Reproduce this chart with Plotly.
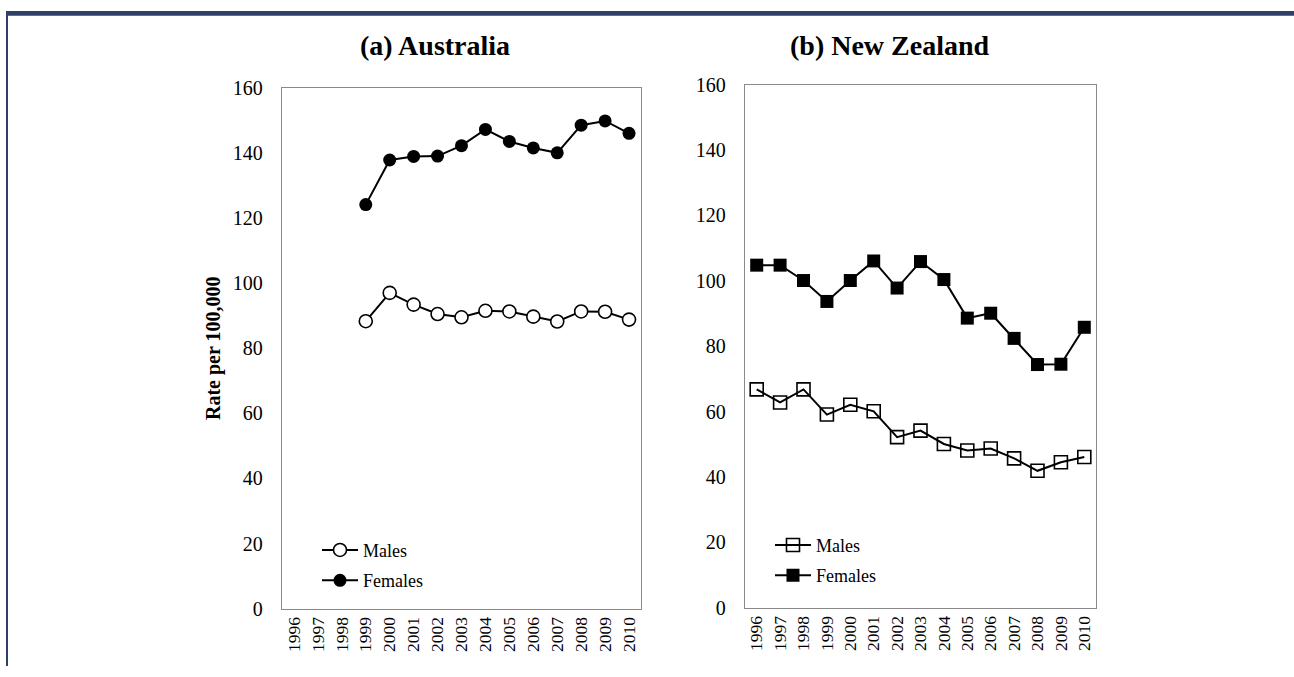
import plotly.graph_objects as go

years = [str(y) for y in range(1996, 2011)]

# (a) Australia (data from 1999)
au_years = [str(y) for y in range(1999, 2011)]
au_males = [88.3, 97.0, 93.4, 90.5, 89.5, 91.5, 91.3, 89.7, 88.2, 91.3, 91.2, 88.8]
au_females = [124.1, 137.8, 138.9, 139.0, 142.2, 147.2, 143.5, 141.5, 140.0, 148.5, 149.8, 146.0]

# (b) New Zealand
nz_years = years
nz_males = [66.8, 62.8, 66.8, 59.1, 62.1, 60.1, 52.2, 54.2, 50.1, 48.1, 48.7, 45.7, 41.9, 44.5, 46.1]
nz_females = [104.8, 104.8, 100.1, 93.7, 100.1, 106.1, 97.8, 105.9, 100.4, 88.6, 90.1, 82.4, 74.4, 74.5, 85.8]

y_ticks = [0, 20, 40, 60, 80, 100, 120, 140, 160]
titles = ["(a) Australia", "(b) New Zealand"]
y_title = "Rate per 100,000"

W, H = 1294, 677
FONT = "Liberation Serif, Times New Roman, serif"
AXC = "#8a8a8a"

def px_x(p):
    return p / W

def px_y(p):
    L = (p - 10.3) / 0.9674
    return (H - L) / H

fig = go.Figure()
line = dict(color="black", width=2)

fig.add_trace(go.Scatter(x=au_years, y=au_males, name="Males", mode="lines+markers",
                         line=line, legend="legend", legendgroup="am",
                         marker=dict(symbol="circle", size=13, color="white",
                                     line=dict(color="black", width=1.6)),
                         xaxis="x", yaxis="y"))
fig.add_trace(go.Scatter(x=au_years, y=au_females, name="Females", mode="lines+markers",
                         line=line, legend="legend", legendgroup="af",
                         marker=dict(symbol="circle", size=13, color="black"),
                         xaxis="x", yaxis="y"))
fig.add_trace(go.Scatter(x=nz_years, y=nz_males, name="Males", mode="lines+markers",
                         line=line, legend="legend2", legendgroup="nm",
                         marker=dict(symbol="square-open", size=13, color="black",
                                     line=dict(color="black", width=1.6)),
                         xaxis="x2", yaxis="y2"))
fig.add_trace(go.Scatter(x=nz_years, y=nz_females, name="Females", mode="lines+markers",
                         line=line, legend="legend2", legendgroup="nf",
                         marker=dict(symbol="square", size=13, color="black"),
                         xaxis="x2", yaxis="y2"))

xcommon = dict(type="category", categoryorder="array", categoryarray=years,
               range=[-0.5, 14.5], showline=True, mirror=True, linecolor=AXC,
               linewidth=1.3, showgrid=False, zeroline=False, ticks="",
               tickangle=-90, tickfont=dict(family=FONT, size=17.5, color="black"),
               fixedrange=True)
ycommon = dict(range=[0, 160], tickvals=y_ticks, showline=True, mirror=True,
               linecolor=AXC, linewidth=1.3, showgrid=False, zeroline=False,
               ticks="", ticklabelstandoff=14,
               tickfont=dict(family=FONT, size=20, color="black"), fixedrange=True)

fig.update_layout(
    width=W, height=H, margin=dict(l=0, r=0, t=0, b=0),
    paper_bgcolor="white", plot_bgcolor="white",
    xaxis=dict(xcommon, domain=[px_x(282), px_x(641)], anchor="y"),
    yaxis=dict(ycommon, domain=[px_y(608), px_y(87)], anchor="x",
               title=dict(text="<b>" + y_title + "</b>", standoff=6,
                          font=dict(family=FONT, size=20, color="black"))),
    xaxis2=dict(xcommon, domain=[px_x(745), px_x(1096)], anchor="y2"),
    yaxis2=dict(ycommon, domain=[px_y(607), px_y(84)], anchor="x2"),
    legend=dict(x=px_x(317), y=px_y(531), xanchor="left", yanchor="top",
                bgcolor="rgba(0,0,0,0)", itemwidth=36, tracegroupgap=4,
                font=dict(family=FONT, size=18, color="black")),
    legend2=dict(x=px_x(770), y=px_y(526), xanchor="left", yanchor="top",
                 bgcolor="rgba(0,0,0,0)", itemwidth=36, tracegroupgap=4,
                 font=dict(family=FONT, size=18, color="black")),
    annotations=[
        dict(text="<b>" + titles[0] + "</b>", x=px_x(435), y=px_y(45), xref="paper",
             yref="paper", showarrow=False, xanchor="center", yanchor="middle",
             font=dict(family=FONT, size=28, color="black")),
        dict(text="<b>" + titles[1] + "</b>", x=px_x(890), y=px_y(45), xref="paper",
             yref="paper", showarrow=False, xanchor="center", yanchor="middle",
             font=dict(family=FONT, size=28, color="black")),
    ],
    shapes=[
        dict(type="rect", xref="paper", yref="paper", x0=px_x(6), x1=1,
             y0=1 - 5 / H, y1=1, fillcolor="#2e4068", line=dict(width=0), layer="above"),
        dict(type="rect", xref="paper", yref="paper", x0=px_x(6), x1=px_x(8),
             y0=0, y1=1, fillcolor="#2e4068", line=dict(width=0), layer="above"),
    ],
    showlegend=True,
)

post = (
    "document.body.style.margin='0';"
    "document.body.style.overflow='hidden';"
    "document.documentElement.style.overflow='hidden';"
)

fig.write_html("out.html", config={"displayModeBar": False}, post_script=post)
